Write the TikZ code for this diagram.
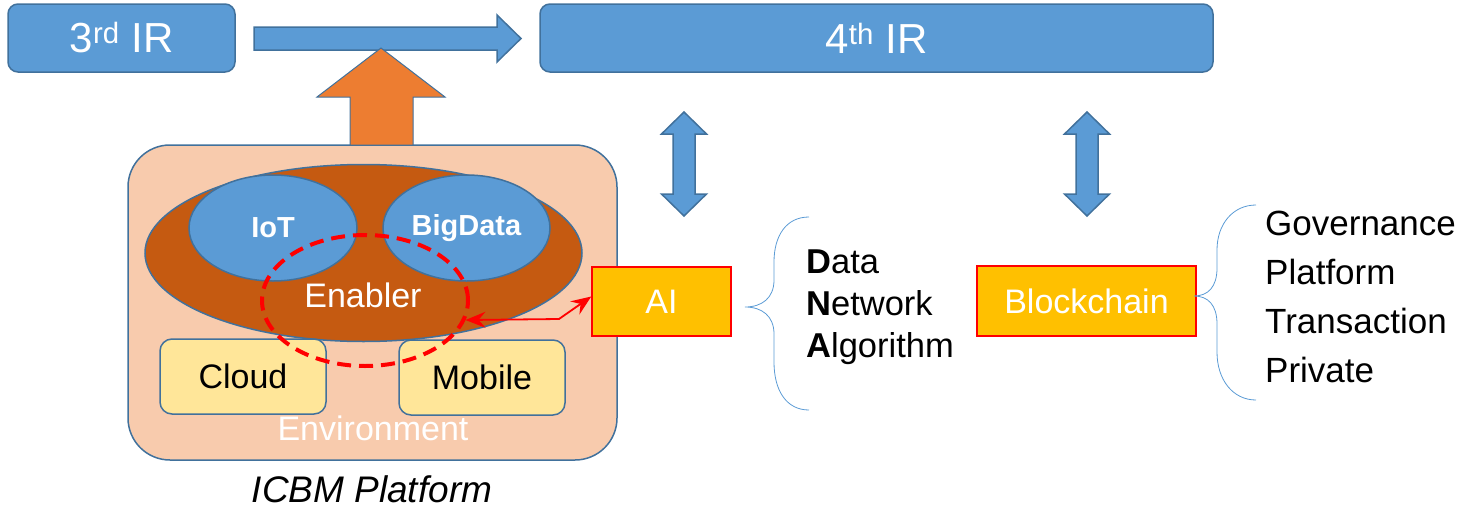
\documentclass[tikz,border=0pt]{standalone}
\usepackage{fontspec}
\setmainfont{Liberation Sans}
\usetikzlibrary{shapes.geometric,arrows.meta}
\definecolor{boxblue}{HTML}{5B9BD5}
\definecolor{edgeblue}{HTML}{41719C}
\definecolor{arrorange}{HTML}{ED7D31}
\definecolor{platpeach}{HTML}{F8CBAD}
\definecolor{enabbrown}{HTML}{C55A11}
\definecolor{envyellow}{HTML}{FFE699}
\definecolor{techgold}{HTML}{FFC000}
\tikzset{
  irbox/.style={draw=edgeblue,line width=1.5,fill=boxblue,rounded corners=10,
    text=white,font=\fontsize{42}{48}\selectfont,inner sep=0},
  blockarrow/.style={draw=edgeblue,line width=1.5,fill=boxblue},
  pillar/.style={draw=edgeblue,line width=1.5,fill=boxblue,ellipse,inner sep=0,
    text=white,font=\fontsize{29}{34}\selectfont\bfseries},
  envbox/.style={draw=edgeblue,line width=1.5,fill=envyellow,rounded corners=12,
    font=\fontsize{34}{40}\selectfont,inner sep=0},
  techbox/.style={draw=red,line width=1.5,fill=techgold,text=white,
    font=\fontsize{34}{40}\selectfont,inner sep=0},
  brace/.style={draw=boxblue,line width=0.8},
  listtext/.style={anchor=west,align=left,inner sep=0},
  redtip/.tip={Stealth[length=20pt,width=16pt,inset=7pt]},
}
\begin{document}
\begin{tikzpicture}[x=1pt,y=-1pt]
\useasboundingbox (0,0) rectangle (1460,509);

% top row: the two revolutions
\node[irbox,minimum width=227,minimum height=68] (ir3) at (121.5,38) {3\textsuperscript{rd} IR};
\node[irbox,minimum width=673,minimum height=68] (ir4) at (876.5,38) {4\textsuperscript{th} IR};
\draw[blockarrow] (254,27) -- (497,27) -- (497,15) -- (521,38.5) -- (497,62) -- (497,50) -- (254,50) -- cycle;

% ICBM platform
\node[draw=edgeblue,line width=1.5,fill=platpeach,rounded corners=42,minimum width=489,minimum height=315,inner sep=0] (plat) at (372.5,302.5) {};
\draw[draw=edgeblue,line width=1,fill=arrorange] (381,48) -- (445,97) -- (413,97) -- (413,145) -- (350,145) -- (350,97) -- (317,97) -- cycle;
\node[draw=edgeblue,line width=1.5,fill=enabbrown,ellipse,minimum width=437,minimum height=177,inner sep=0] (enab) at (363.5,253) {};
\node[pillar,minimum width=168,minimum height=106] (iot) at (273,228) {IoT};
\node[pillar,minimum width=167,minimum height=106] (bigdata) at (466.5,228) {BigData};
\node[envbox,minimum width=166,minimum height=75] (cloud) at (243,376.5) {Cloud};
\node[envbox,minimum width=166,minimum height=75] (mobile) at (482,377.5) {Mobile};
\node[text=white,font=\fontsize{34}{40}\selectfont] (enabtxt) at (363,295) {Enabler};
\node[text=white,font=\fontsize{34}{40}\selectfont] (envtxt) at (373,428) {Environment};
\node[draw=red,line width=4,dash pattern=on 14 off 8,ellipse,minimum width=206,minimum height=131,inner sep=0] (ring) at (365,300.5) {};
\node[font=\fontsize{37}{44}\selectfont\itshape] (icbm) at (372,489) {ICBM Platform};

% AI and blockchain
\node[techbox,minimum width=139,minimum height=69] (ai) at (661.5,301.5) {AI};
\node[techbox,minimum width=219,minimum height=70] (bc) at (1086.5,301) {Blockchain};
\coordinate (bend) at (559,319);
\draw[red,line width=1.8,{redtip}-{redtip}]
  (ring.-11) -- (bend) -- ([yshift=5pt]ai.west);

% links to the fourth revolution
\foreach \c/\n in {684/aiup,1087/bcup}{
  \draw[blockarrow] (\c,112) -- (\c+22.5,134) -- (\c+11,134) -- (\c+11,194) -- (\c+22.5,194)
    -- (\c,216) -- (\c-22.5,194) -- (\c-11,194) -- (\c-11,134) -- (\c-22.5,134) -- cycle;
}

% braces and their lists
\draw[brace] (809,217) .. controls (786,217) and (774,236) .. (774,262)
  -- (774,280) .. controls (774,298) and (762,307) .. (745,307)
  .. controls (762,307) and (774,316) .. (774,334)
  -- (774,362) .. controls (774,390) and (786,410) .. (809,410);
\node[listtext,font=\fontsize{34.5}{42}\selectfont] (dna) at (806,307)
  {\textbf{D}ata\\\textbf{N}etwork\\\textbf{A}lgorithm};

\draw[brace] (1256,205) .. controls (1233,205) and (1217,224) .. (1217,250)
  -- (1217,268) .. controls (1217,287) and (1208,296) .. (1194,296)
  .. controls (1208,296) and (1217,305) .. (1217,324)
  -- (1217,352) .. controls (1217,380) and (1233,400) .. (1256,400);
\node[listtext,font=\fontsize{35}{49}\selectfont] (gptp) at (1265,297)
  {Governance\\Platform\\Transaction\\Private};
\end{tikzpicture}
\end{document}
